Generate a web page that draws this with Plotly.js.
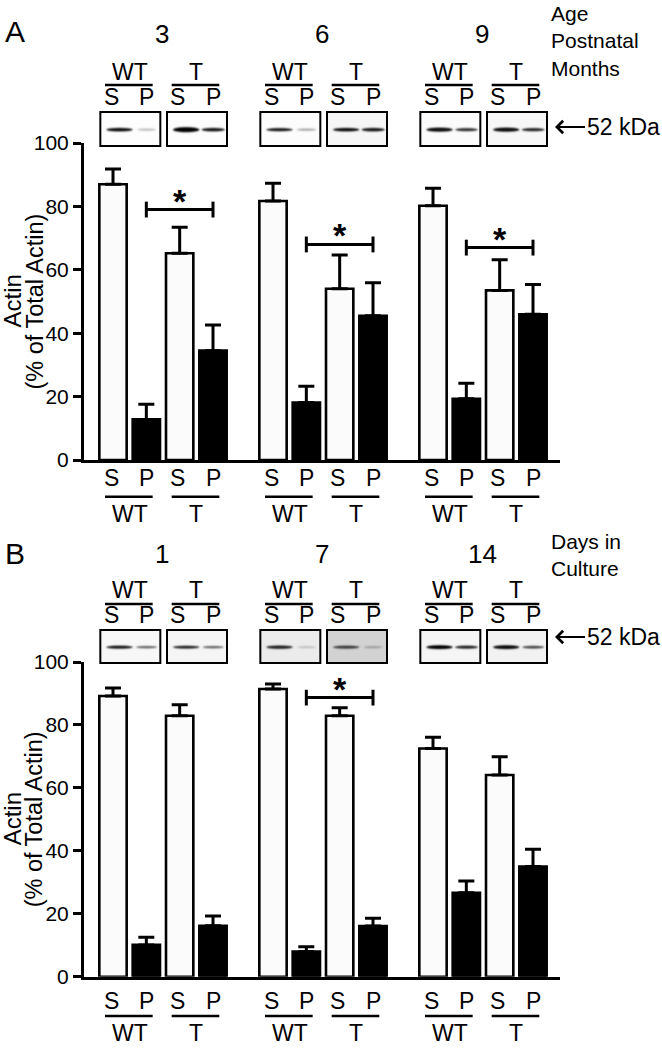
<!DOCTYPE html>
<html><head><meta charset="utf-8">
<script src="https://cdn.plot.ly/plotly-3.0.1.min.js"></script>
<style>html,body{margin:0;padding:0;background:#fff}</style>
</head><body><div id="chart" style="width:662px;height:1050px"></div>
<script>
// ---------------- data ----------------
const groupsA = ["3", "6", "9"];          // Age, postnatal months
const groupsB = ["1", "7", "14"];         // Days in culture
const genotypes = ["WT", "T"];
const fractions = ["S", "P"];
// order within each group: WT-S, WT-P, T-S, T-P
const meansA = [87.0, 12.8, 65.2, 34.5,  81.7, 18.1, 54.0, 45.5,  80.2, 19.3, 53.5, 46.0];
const errA   = [ 4.8,  4.8,  8.2,  8.1,   5.6,  5.2, 10.7, 10.4,   5.5,  4.9,  9.7,  9.4];
const meansB = [89.2, 10.1, 82.9, 16.2,  91.4,  8.0, 82.9, 16.1,  72.5, 26.7, 64.1, 35.0];
const errB   = [ 2.5,  2.4,  3.5,  3.1,   1.6,  1.5,  2.6,  2.5,   3.6,  3.7,  5.8,  5.5];
const sigA = [79, 68, 67];        // significance bracket level per group (null = none)
const sigB = [null, 88.7, null];
const yTicks = [0, 20, 40, 60, 80, 100];
const yTitle1 = "Actin", yTitle2 = "(% of Total Actin)";
const captionA = ["Age", "Postnatal", "Months"];
const captionB = ["Days in", "Culture"];

// ---------------- helpers ----------------
const FONT = "Liberation Sans, Arial, sans-serif";
const W = 662, H = 1050;
const X = px => px / W, Y = py => 1 - py / H;
const STEP = 4.8;
const pos = (g, k) => g * STEP + k;

// blot appearance: [bg, S alpha, S thickness, P alpha, P thickness]
const blotsA = [
  ["#fdfdfd", 0.95, 3.5, 0.25, 2.2], ["#fdfdfd", 1, 5, 0.9, 3.5],
  ["#fcfcfc", 0.9, 3.2, 0.35, 2.2], ["#f6f6f6", 0.95, 3.5, 0.9, 3.5],
  ["#fbfbfb", 0.95, 4.2, 0.8, 3.2], ["#f7f7f7", 0.95, 4.2, 0.85, 3.2]
];
const blotsB = [
  ["#f7f7f7", 0.9, 3.2, 0.6, 2.4], ["#f5f5f5", 0.85, 3, 0.6, 2.4],
  ["#ebebeb", 0.85, 3.5, 0.2, 2], ["#d2d2d2", 0.7, 3.2, 0.25, 2.2],
  ["#f5f5f5", 1, 4, 0.85, 3.2], ["#f2f2f2", 0.95, 4, 0.7, 2.8]
];
function makeBlot(b) {
  const cw = 180, ch = 102, c = document.createElement("canvas");
  c.width = cw; c.height = ch;
  const ctx = c.getContext("2d");
  ctx.fillStyle = b[0]; ctx.fillRect(0, 0, cw, ch);
  ctx.filter = "blur(2.5px)";
  const band = (cx, w, h, a) => {
    ctx.fillStyle = "rgba(0,0,0," + a + ")";
    ctx.beginPath(); ctx.ellipse(cx, ch * 0.52, w / 2, h * 1.5, 0, 0, 2 * Math.PI); ctx.fill();
  };
  band(0.32 * cw, 0.44 * cw, b[2], b[1]);
  band(0.77 * cw, (0.28 + 0.12 * b[3]) * cw, b[4], b[3]);
  return c.toDataURL();
}

const panels = [
  {xa: "x", ya: "y", means: meansA, errs: errA, sig: sigA, groups: groupsA, blots: blotsA,
   y0: 460, y100: 143, letter: "A", letterY: 32, numY: 34, side: captionA, sideY: 41,
   topG: 72.5, topLine: 85, topF: 97, boxT: 112, boxB: 146,
   botF: 478, botLine: 496.7, botG: 514, kda: 127},
  {xa: "x2", ya: "y2", means: meansB, errs: errB, sig: sigB, groups: groupsB, blots: blotsB,
   y0: 976.7, y100: 662, letter: "B", letterY: 553, numY: 554, side: captionB, sideY: 554.5,
   topG: 590, topLine: 604, topF: 615, boxT: 630, boxB: 663,
   botF: 1001, botLine: 1016, botG: 1033, kda: 637}
];

const traces = [], shapes = [], annotations = [], images = [];
const layout = {
  width: W, height: H, margin: {l: 0, r: 0, t: 0, b: 0},
  paper_bgcolor: "#fff", plot_bgcolor: "rgba(0,0,0,0)", showlegend: false, barmode: "overlay",
  font: {family: FONT, color: "#000"}
};
const LBL = 23;

panels.forEach((p, pi) => {
  const sx = [], sy = [], se = [], px = [], py = [], pe = [];
  p.groups.forEach((g, gi) => {
    for (let k = 0; k < 4; k++) {
      const idx = gi * 4 + k;
      if (k % 2 === 0) { sx.push(pos(gi, k)); sy.push(p.means[idx]); se.push(p.errs[idx]); }
      else { px.push(pos(gi, k)); py.push(p.means[idx]); pe.push(p.errs[idx]); }
    }
  });
  const base = {type: "bar", xaxis: p.xa, yaxis: p.ya, width: 0.82, hoverinfo: "skip"};
  const eb = arr => ({type: "data", array: arr, arrayminus: arr.map(() => 0), symmetric: false,
                      color: "#000", thickness: 3, width: 8});
  traces.push(Object.assign({}, base, {x: sx, y: sy, name: "S",
    marker: {color: "#fbfbfb", line: {color: "#000", width: 2.6}}, error_y: eb(se)}));
  traces.push(Object.assign({}, base, {x: px, y: py, name: "P",
    marker: {color: "#000", line: {color: "#000", width: 2.6}}, error_y: eb(pe)}));

  const suf = pi === 0 ? "" : "2";
  layout["xaxis" + suf] = {domain: [X(84), X(560)], range: [-0.87, 13.41], anchor: "y" + suf,
    showline: true, linewidth: 3, linecolor: "#000", showticklabels: false, ticks: "",
    showgrid: false, zeroline: false, fixedrange: true};
  layout["yaxis" + suf] = {domain: [Y(p.y0), Y(p.y100)], range: [0, 100], anchor: "x" + suf,
    tickvals: yTicks, ticks: "outside", ticklen: 8, tickwidth: 3, tickcolor: "#000",
    showline: true, linewidth: 3, linecolor: "#000", showgrid: false, zeroline: false,
    tickfont: {family: FONT, size: 21, color: "#000"}, fixedrange: true};

  // y title
  const yc = Y((p.y0 + p.y100) / 2);
  annotations.push({xref: "paper", yref: "paper", x: X(12), y: yc, text: yTitle1, textangle: -90,
    showarrow: false, font: {size: 24}, xanchor: "center", yanchor: "middle"});
  annotations.push({xref: "paper", yref: "paper", x: X(34), y: yc, text: yTitle2, textangle: -90,
    showarrow: false, font: {size: 23.5}, xanchor: "center", yanchor: "middle"});

  // panel letter & side caption
  annotations.push({xref: "paper", yref: "paper", x: X(15), y: Y(p.letterY), text: p.letter,
    showarrow: false, font: {size: 30}, xanchor: "center", yanchor: "middle"});
  annotations.push({xref: "paper", yref: "paper", x: X(549), y: Y(p.sideY),
    text: p.side.join("<br>"), align: "left", showarrow: false, font: {size: 21},
    xanchor: "left", yanchor: "middle"});
  // 52 kDa arrow
  annotations.push({xref: "paper", yref: "paper", x: X(555), y: Y(p.kda), ax: 68, ay: 0,
    text: "52 kDa", showarrow: true, arrowhead: 4, arrowsize: 1.2, arrowwidth: 2, arrowcolor: "#000",
    standoff: 0, font: {size: 23}});

  p.groups.forEach((g, gi) => {
    // group number
    annotations.push({xref: p.xa, yref: "paper", x: (pos(gi, 0) + pos(gi, 3)) / 2 - 0.03, y: Y(p.numY),
      text: g, showarrow: false, font: {size: 26}, xanchor: "center", yanchor: "middle"});
    genotypes.forEach((gt, ti) => {
      const s = pos(gi, ti * 2), pp = pos(gi, ti * 2 + 1), mid = (s + pp) / 2;
      // top and bottom underline
      [p.topLine, p.botLine].forEach(ly => shapes.push({type: "line", xref: p.xa, yref: "paper",
        x0: s - 0.24, x1: pp + 0.19, y0: Y(ly), y1: Y(ly), line: {color: "#000", width: 2.5}}));
      [p.topG, p.botG].forEach(ly => annotations.push({xref: p.xa, yref: "paper", x: mid, y: Y(ly),
        text: gt, showarrow: false, font: {size: LBL}, xanchor: "center", yanchor: "middle"}));
      fractions.forEach((f, fi) => {
        const fx = pos(gi, ti * 2 + fi);
        [p.topF, p.botF].forEach(ly => annotations.push({xref: p.xa, yref: "paper", x: fx - (fi === 0 ? 0.06 : 0),
          y: Y(ly), text: f, showarrow: false, font: {size: LBL}, xanchor: "center", yanchor: "middle"}));
      });
      // blot image + frame
      const bx0 = s - 0.38, bx1 = pp + 0.42;
      images.push({source: makeBlot(p.blots[gi * 2 + ti]), xref: p.xa, yref: "paper",
        x: bx0, y: Y(p.boxT), sizex: bx1 - bx0, sizey: (p.boxB - p.boxT) / H,
        xanchor: "left", yanchor: "top", sizing: "stretch", layer: "above"});
      shapes.push({type: "rect", xref: p.xa, yref: "paper", x0: bx0, x1: bx1, y0: Y(p.boxB), y1: Y(p.boxT),
        line: {color: "#000", width: 2}, fillcolor: "rgba(0,0,0,0)", layer: "above"});
    });
    // significance bracket
    const lvl = p.sig[gi];
    if (lvl !== null && lvl !== undefined) {
      const a = pos(gi, 1), b = pos(gi, 3), cap = 2.5;
      shapes.push({type: "line", xref: p.xa, yref: p.ya, x0: a, x1: b, y0: lvl, y1: lvl, line: {color: "#000", width: 3}});
      [a, b].forEach(xx => shapes.push({type: "line", xref: p.xa, yref: p.ya, x0: xx, x1: xx,
        y0: lvl - cap, y1: lvl + cap, line: {color: "#000", width: 3}}));
      annotations.push({xref: p.xa, yref: p.ya, x: (a + b) / 2, y: lvl, yshift: -12, text: "<b>*</b>",
        showarrow: false, font: {size: 34}, xanchor: "center", yanchor: "bottom"});
    }
  });
});

layout.shapes = shapes; layout.annotations = annotations; layout.images = images;
Plotly.newPlot("chart", traces, layout, {staticPlot: true, displayModeBar: false});
</script></body></html>
